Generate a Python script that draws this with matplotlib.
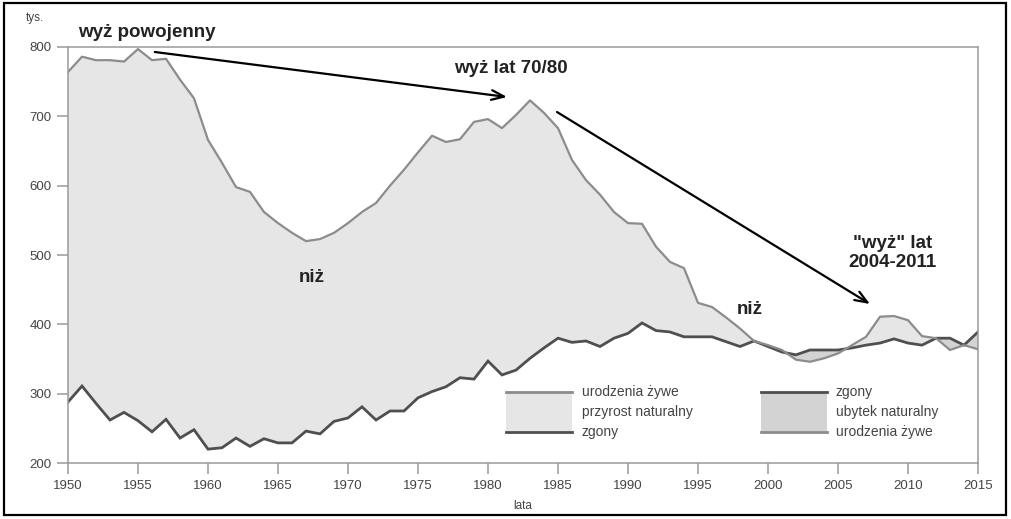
import numpy as np
import matplotlib
matplotlib.use("Agg")
import matplotlib.pyplot as plt
from matplotlib.lines import Line2D
from matplotlib.patches import Rectangle

plt.rcParams['font.family'] = ['Liberation Sans', 'DejaVu Sans']

# Births and deaths in Poland (thousands)
years = list(range(1950, 2016))
births = [764, 786, 781, 781, 779, 797, 781, 783, 753, 726,
          666, 633, 598, 591, 562, 546, 532, 520, 523, 532,
          546, 562, 575, 600, 623, 648, 672, 663, 667, 692,
          696, 683, 702, 723, 705, 683, 637, 608, 587, 562,
          546, 545, 512, 490, 481, 431, 425, 410, 394, 376,
          370, 363, 349, 346, 351, 358, 370, 382, 411, 412,
          406, 383, 380, 363, 370, 364]
deaths = [288, 311, 286, 262, 273, 261, 245, 263, 236, 248,
          220, 222, 236, 224, 235, 229, 229, 246, 242, 260,
          265, 281, 262, 275, 275, 294, 303, 310, 323, 321,
          347, 327, 334, 351, 366, 380, 374, 376, 368, 380,
          387, 402, 391, 389, 382, 382, 382, 375, 368, 376,
          368, 360, 356, 363, 363, 363, 366, 370, 373, 379,
          373, 370, 380, 380, 370, 389]

x_ticks = list(range(1950, 2016, 5))
y_ticks = [200, 300, 400, 500, 600, 700, 800]

legend_left = ["urodzenia żywe", "przyrost naturalny", "zgony"]
legend_right = ["zgony", "ubytek naturalny", "urodzenia żywe"]

BIRTH_C = "#8c8c8c"
DEATH_C = "#4f4f4f"
FILL_PLUS = "#e6e6e6"
FILL_MINUS = "#d3d3d3"
AXIS_C = "#9a9a9a"
TEXT_C = "#444444"

W, H = 1012, 519
fig = plt.figure(figsize=(W / 100, H / 100), dpi=100)
ax = fig.add_axes([68 / W, 1 - 463 / H, (978 - 68) / W, (463 - 47) / H])

yr = np.array(years)
b = np.array(births)
d = np.array(deaths)

ax.fill_between(yr, d, b, where=b >= d, interpolate=True, color=FILL_PLUS, lw=0)
ax.fill_between(yr, d, b, where=b < d, interpolate=True, color=FILL_MINUS, lw=0)
ax.plot(yr, d, color=DEATH_C, lw=2.0, solid_joinstyle="miter")
ax.plot(yr, b, color=BIRTH_C, lw=1.6)

ax.set_xlim(1950, 2015)
ax.set_ylim(200, 800)
ax.set_xticks(x_ticks)
ax.set_yticks(y_ticks)
for s in ax.spines.values():
    s.set_color(AXIS_C)
    s.set_linewidth(1.1)
ax.tick_params(colors=AXIS_C, labelcolor=TEXT_C, length=8, width=1.1,
               labelsize=9.5, pad=4)
ax.set_xlabel("lata", fontsize=8.5, color=TEXT_C, labelpad=6)
fig.text(26 / W, 1 - 18 / H, "tys.", fontsize=8.5, color=TEXT_C, va="center")

# Annotations
bold = dict(fontsize=13.5, fontweight="bold", color="#222222", clip_on=False)
ax.text(1950.7, 821.6, "wyż powojenny", ha="left", va="center", **bold)
ax.text(1977.6, 769.7, "wyż lat 70/80", ha="left", va="center", **bold)
ax.text(1967.4, 468, "niż", ha="center", va="center", **bold)
ax.text(1998.7, 421, "niż", ha="center", va="center", **bold)
ax.text(2008.9, 503, '"wyż" lat\n2004-2011', ha="center", va="center",
        linespacing=1.1, **bold)

arrow = dict(arrowstyle="->,head_length=0.9,head_width=0.35", color="black", lw=1.6,
             shrinkA=0, shrinkB=0)
ax.annotate("", xy=(1981.36, 727.9), xytext=(1956.2, 792.8), arrowprops=arrow)
ax.annotate("", xy=(2007.29, 429.3), xytext=(1984.93, 706.2), arrowprops=arrow)

# Hand made legend
def fy(py):
    return 1 - py / H

def legend_group(x0, x1, tx, top_c, bot_c, fill_c, labels):
    fig.add_artist(Rectangle((x0 / W, fy(432)), (x1 - x0) / W, 40 / H,
                             transform=fig.transFigure, color=fill_c, lw=0))
    fig.add_artist(Line2D([x0 / W, x1 / W], [fy(392), fy(392)], color=top_c, lw=2.0))
    fig.add_artist(Line2D([x0 / W, x1 / W], [fy(432), fy(432)], color=bot_c, lw=2.0))
    for i, lab in enumerate(labels):
        fig.text(tx / W, fy(392 + 20 * i), lab, fontsize=10, color=TEXT_C, va="center")

legend_group(506, 572, 582, BIRTH_C, DEATH_C, FILL_PLUS, legend_left)
legend_group(761, 827, 836, DEATH_C, BIRTH_C, FILL_MINUS, legend_right)

# Black frame around the whole picture
fig.add_artist(Rectangle((4 / W, 4 / H), 1002 / W, 512 / H, transform=fig.transFigure,
                         fill=False, edgecolor="black", lw=1.6))

fig.savefig("out.png", dpi=100)
